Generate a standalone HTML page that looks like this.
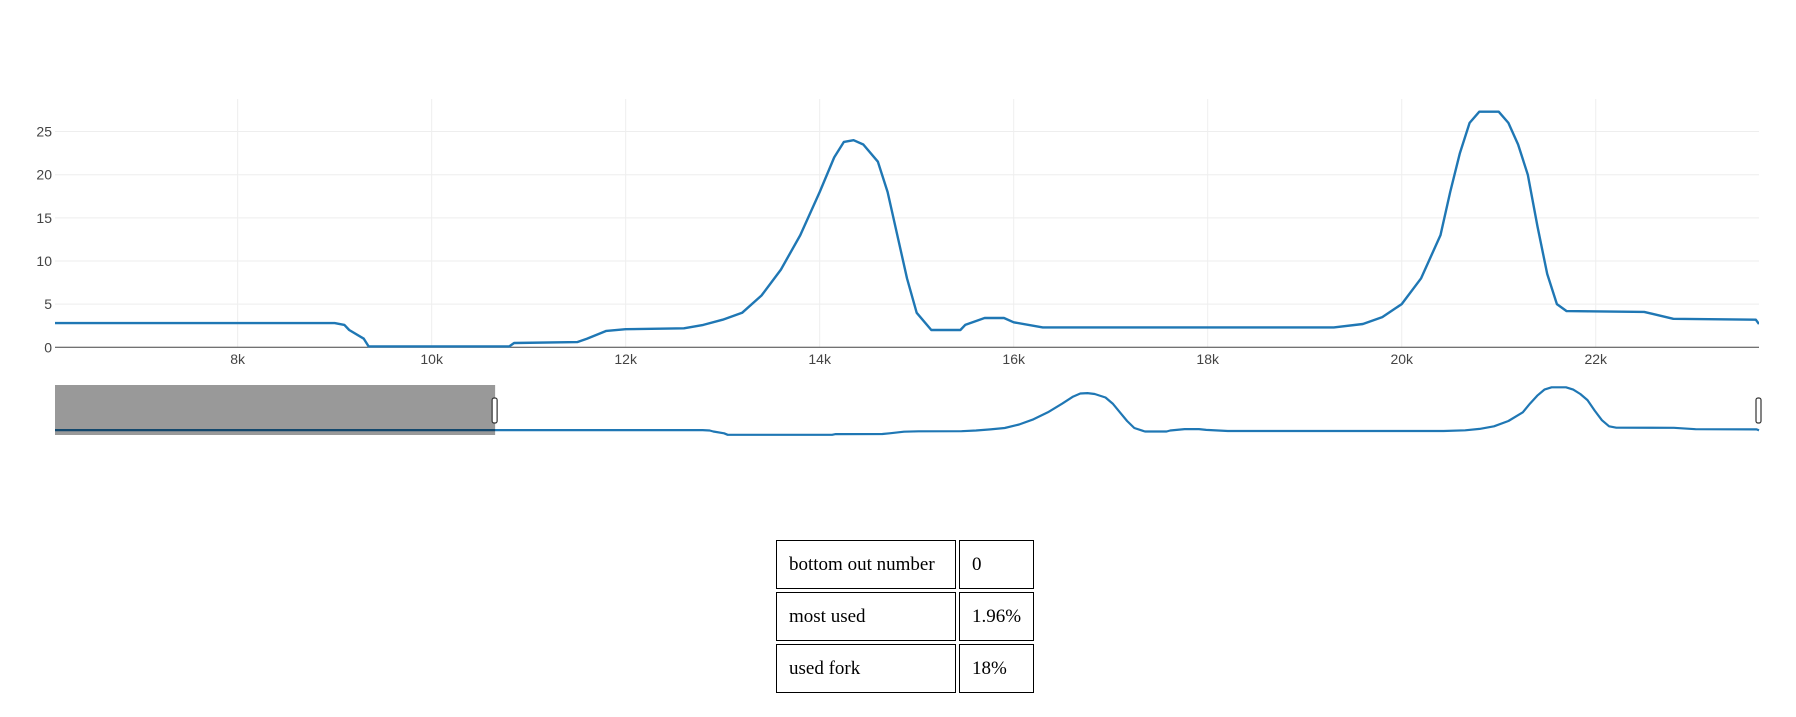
<!DOCTYPE html>
<html><head><meta charset="utf-8"><style>
html,body{margin:0;padding:0;background:#fff;width:1796px;height:717px;overflow:hidden;}
svg{position:absolute;left:0;top:0;}
table{position:absolute;left:773px;top:537px;border-collapse:separate;border-spacing:3px;font-family:"Liberation Serif",serif;font-size:19px;color:#000;}
td{border:1px solid #000;height:47px;padding:0 12px;}
td.c1{width:154px;}
td.c2{width:49px;}
</style></head><body>
<svg id="chart" width="1796" height="717" xmlns="http://www.w3.org/2000/svg"></svg>
<table>
<tr><td class="c1">bottom out number</td><td class="c2">0</td></tr>
<tr><td class="c1">most used</td><td class="c2">1.96%</td></tr>
<tr><td class="c1">used fork</td><td class="c2">18%</td></tr>
</table>
<script>
const xValues=[0,6117,9000,9100,9150,9300,9350,10800,10850,11500,11600,11800,12000,12600,12800,13000,13200,13400,13600,13800,14000,14150,14250,14350,14450,14600,14700,14800,14900,15000,15150,15450,15500,15700,15900,16000,16300,19300,19600,19800,20000,20200,20400,20500,20600,20700,20800,21000,21100,21200,21300,21400,21500,21600,21700,22500,22800,23650,23683];
const yValues=[2.8,2.8,2.8,2.6,2.0,1.0,0.1,0.1,0.5,0.6,1.0,1.9,2.1,2.2,2.6,3.2,4.0,6.0,9.0,13.0,18.0,22.0,23.8,24.0,23.5,21.5,18.0,13.0,8.0,4.0,2.0,2.0,2.6,3.4,3.4,2.9,2.3,2.3,2.7,3.5,5.0,8.0,13.0,18.0,22.5,26.0,27.3,27.3,26.0,23.5,20.0,14.0,8.5,5.0,4.2,4.1,3.3,3.2,2.7];
const xTicks=[8000,10000,12000,14000,16000,18000,20000,22000];
const xTickLabels=["8k","10k","12k","14k","16k","18k","20k","22k"];
const yTicks=[0,5,10,15,20,25];
const viewMin=6117, viewMax=23683, fullMin=0, fullMax=23683, yMax=28.77;

const NS="http://www.w3.org/2000/svg";
const svg=document.getElementById('chart');
const L=55,R=1759,T=99,B=347.3;
const sx=v=>L+(v-viewMin)/(viewMax-viewMin)*(R-L);
const sy=v=>B-v/yMax*(B-T);
const SB=435,ST=387;
const rx=v=>L+(v-fullMin)/(fullMax-fullMin)*(R-L);
const ry=v=>SB-v/27.5*(SB-ST);
function mk(tag,attrs,parent){const e=document.createElementNS(NS,tag);for(const k in attrs)e.setAttribute(k,attrs[k]);(parent||svg).appendChild(e);return e;}

xTicks.forEach((t,i)=>{
  const g=mk('line',{x1:sx(t),x2:sx(t),y1:T,y2:B,stroke:'#eee','stroke-width':1});
  
  
  const tx=mk('text',{x:sx(t),y:364,'text-anchor':'middle','font-family':'Liberation Sans, sans-serif','font-size':14,fill:'#444'});
  tx.textContent=xTickLabels[i];
  
  
});
yTicks.forEach(t=>{
  if(t>0){const g=mk('line',{x1:L,x2:R,y1:sy(t),y2:sy(t),stroke:'#eee','stroke-width':1});
  
  }
  const tx=mk('text',{x:52,y:sy(t)+5,'text-anchor':'end','font-family':'Liberation Sans, sans-serif','font-size':14,fill:'#444'});
  tx.textContent=t;
  
  
});
const zl=mk('line',{x1:L,x2:R,y1:B,y2:B,stroke:'#444','stroke-width':1});



const cp=mk('clipPath',{id:'clip'});mk('rect',{x:L,y:T-5,width:R-L,height:B-T+10},cp);
let d='';xValues.forEach((x,i)=>{d+=(i?'L':'M')+sx(x).toFixed(1)+','+sy(yValues[i]).toFixed(1);});
const line=mk('path',{d:d,fill:'none',stroke:'#1f77b4','stroke-width':2.4,'clip-path':'url(#clip)','stroke-linejoin':'round'});



let d2='';xValues.forEach((x,i)=>{d2+=(i?'L':'M')+rx(x).toFixed(1)+','+ry(yValues[i]).toFixed(1);});
const sl=mk('path',{d:d2,fill:'none',stroke:'#1f77b4','stroke-width':2.2,'stroke-linejoin':'round'});


const sh=mk('rect',{x:L,y:385,width:rx(viewMin)-L,height:50,fill:'#000','fill-opacity':0.4});


[rx(viewMin),rx(viewMax)].forEach((hx,i)=>{
  const h=mk('rect',{x:hx-3,y:398,width:5,height:25,rx:2,fill:'#fff',stroke:'#333','stroke-width':1.2});
  
  
});
</script>
</body></html>
